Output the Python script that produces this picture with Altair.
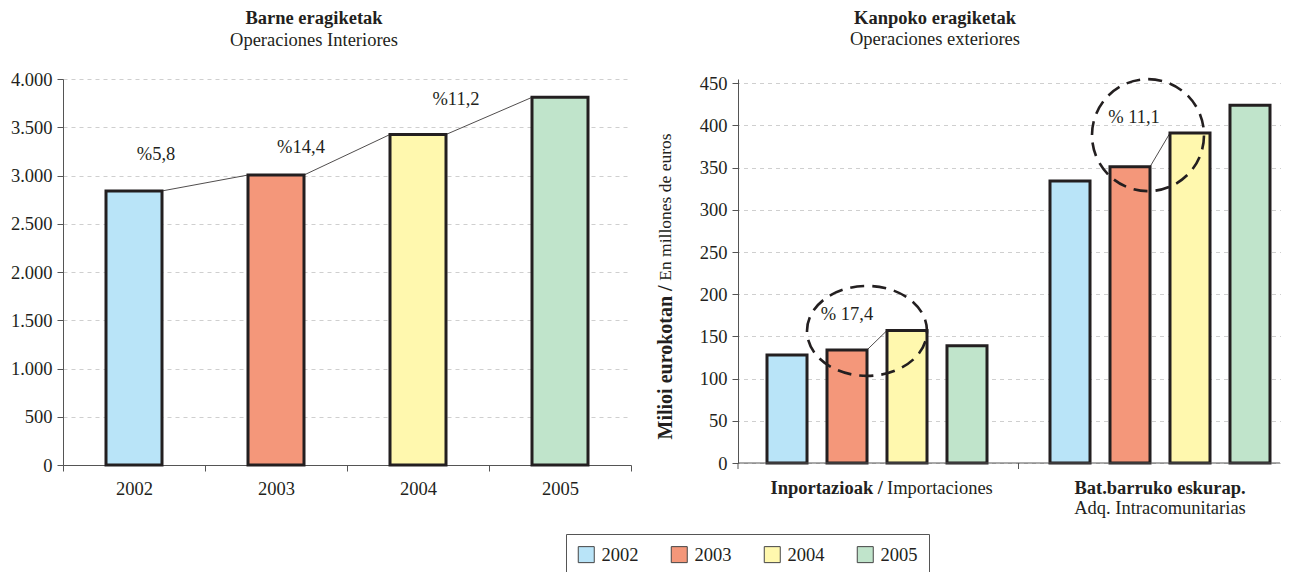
import altair as alt
import pandas as pd

# ---------------- data ----------------
years = ["2002", "2003", "2004", "2005"]
colors = ["#B9E4F8", "#F4977A", "#FFF8AE", "#C0E4CB"]

interior = [2840, 3005, 3425, 3810]          # Operaciones interiores
interior_growth = ["%5,8", "%14,4", "%11,2"]  # growth labels between consecutive years
left_ticks = [0, 500, 1000, 1500, 2000, 2500, 3000, 3500, 4000]

groups = ["Inportazioak", "Bat.barruko"]
imports = [128, 134, 157, 139]               # Importaciones
intra = [334, 351, 391, 424]                 # Adq. Intracomunitarias
right_ticks = [0, 50, 100, 150, 200, 250, 300, 350, 400, 450]
right_notes = ["% 17,4", "% 11,1"]

FONT = "Liberation Serif"
INK = "#231F20"
AX = "#555555"
FS = 18.5

# ---------------- tables ----------------
left_df = pd.DataFrame({"year": years, "value": interior})
conn_df = pd.DataFrame({
    "year": years[:-1], "next": years[1:],
    "value": interior[:-1], "next_value": interior[1:],
    "label": interior_growth,
})
right_df = pd.DataFrame({
    "group": [groups[0]] * 4 + [groups[1]] * 4,
    "year": years * 2,
    "value": imports + intra,
})

color_scale = alt.Scale(domain=years, range=colors)

# ---------------- left chart ----------------
LW, LH = 568, 386
lx = alt.X("year:N", title=None,
           scale=alt.Scale(paddingInner=0, paddingOuter=0),
           axis=alt.Axis(labelAngle=0, tickBand="extent", tickSize=6,
                         labelPadding=8, grid=False,
                         labelFont=FONT, labelFontSize=FS))
ly = alt.Y("value:Q", title=None,
           scale=alt.Scale(domain=[0, 4000]),
           axis=alt.Axis(values=left_ticks, tickSize=6, labelPadding=5,
                         labelFont=FONT, labelFontSize=FS,
                         labelExpr="replace(format(datum.value, ','), ',', '.')"))

left_bars = alt.Chart(left_df).mark_bar(
    width=56, stroke=INK, strokeWidth=3
).encode(
    x=lx, y=ly,
    color=alt.Color("year:N", scale=color_scale, title=None),
)

left_conn = alt.Chart(conn_df).mark_rule(
    color=INK, strokeWidth=0.8, xOffset=28, x2Offset=-28
).encode(
    x="year:N", x2="next:N", y="value:Q", y2="next_value:Q"
)

label_offsets = [(22, -37), (25, -28), (38, -35)]
left_labels = []
for i, (dx, dy) in enumerate(label_offsets):
    left_labels.append(
        alt.Chart(conn_df.iloc[[i]]).mark_text(
            font=FONT, fontSize=FS, color=INK, dx=dx, dy=dy
        ).encode(x="year:N", y="value:Q", text="label:N")
    )

left = alt.layer(left_bars, left_conn, *left_labels).properties(
    width=LW, height=LH,
    title=alt.TitleParams(
        text="Barne eragiketak", subtitle="Operaciones Interiores",
        font=FONT, fontSize=FS, fontWeight="bold", color=INK,
        subtitleFont=FONT, subtitleFontSize=FS, subtitleColor=INK,
        subtitlePadding=3, anchor="middle", dx=-33, offset=21,
    ),
)

# ---------------- right chart ----------------
RW, RH = 542, 384
GROUP_W = 283
rx = alt.X("group:N", title=None, sort=groups,
           scale=alt.Scale(domain=groups, paddingInner=0, paddingOuter=0,
                           range=[-2.5, 2 * GROUP_W - 2.5]),
           axis=None)
ry = alt.Y("value:Q", title=None,
           scale=alt.Scale(domain=[0, 455], nice=False),
           axis=alt.Axis(values=right_ticks, tickSize=6, labelPadding=5,
                         labelFont=FONT, labelFontSize=FS))

right_bars = alt.Chart(right_df).mark_bar(
    stroke=INK, strokeWidth=3
).encode(
    x=rx,
    xOffset=alt.XOffset("year:N", sort=years,
                        scale=alt.Scale(paddingInner=0.333, paddingOuter=0.525)),
    y=ry,
    color=alt.Color("year:N", scale=color_scale, title=None),
)

# x axis line and ticks at the group boundaries
x_axis_line = alt.Chart().mark_rule(color=AX, strokeWidth=1).encode(
    x=alt.value(0), x2=alt.value(RW), y=alt.value(RH))
x_tick_left = alt.Chart().mark_rule(color=AX, strokeWidth=1).encode(
    x=alt.value(0), y=alt.value(RH), y2=alt.value(RH + 6))
x_tick_mid = alt.Chart().mark_rule(color=AX, strokeWidth=1, xOffset=GROUP_W / 2).encode(
    x=alt.datum(groups[0]), y=alt.value(RH), y2=alt.value(RH + 6))

ann = []
series = [imports, intra]
ell_paths = [
    "M-1,0A1,0.75,0,1,1,1,0A1,0.75,0,1,1,-1,0Z",
    "M-1,0A1,1,0,1,1,1,0A1,1,0,1,1,-1,0Z",
]
ell_sizes = [120 ** 2, 112 ** 2]
ell_center = [156.5, 388.5]
ell_dx = [-10, -12]
note_pos = [(-30, 176.5), (-26, 410)]
for g, vals, path, sz, cy, edx, (ndx, ny), note in zip(
        groups, series, ell_paths, ell_sizes, ell_center, ell_dx, note_pos, right_notes):
    # connector from 2003 bar top-right to 2004 bar top-left
    ann.append(alt.Chart().mark_rule(
        color=INK, strokeWidth=0.8, xOffset=-10, x2Offset=10
    ).encode(x=alt.datum(g), x2=alt.datum(g),
             y=alt.datum(vals[1]), y2=alt.datum(vals[2])))
    ann.append(alt.Chart().mark_point(
        shape=path, size=sz, filled=False, opacity=1, stroke=INK,
        strokeWidth=2.6, strokeDash=[14, 8], xOffset=edx
    ).encode(x=alt.datum(g), y=alt.datum(cy)))
    ann.append(alt.Chart().mark_text(
        font=FONT, fontSize=FS, color=INK, dx=ndx
    ).encode(x=alt.datum(g), y=alt.datum(ny), text=alt.value(note)))

# axis title (mixed bold / regular) as rotated text
ytitle_bold = alt.Chart().mark_text(
    font=FONT, fontSize=20, fontWeight="bold", color=INK, angle=270,
    align="right", baseline="middle"
).encode(x=alt.value(-72), y=alt.datum(210.5), text=alt.value("Milioi eurokotan /"))
ytitle_reg = alt.Chart().mark_text(
    font=FONT, fontSize=17.5, color=INK, angle=270,
    align="left", baseline="middle"
).encode(x=alt.value(-72), y=alt.datum(216), text=alt.value("En millones de euros"))

# group labels under the x axis
g1_bold = alt.Chart().mark_text(
    font=FONT, fontSize=FS, fontWeight="bold", color=INK, align="right", dx=6
).encode(x=alt.datum(groups[0]), y=alt.value(RH + 25), text=alt.value("Inportazioak /"))
g1_reg = alt.Chart().mark_text(
    font=FONT, fontSize=FS, color=INK, align="left", dx=10
).encode(x=alt.datum(groups[0]), y=alt.value(RH + 25), text=alt.value("Importaciones"))
g2_bold = alt.Chart().mark_text(
    font=FONT, fontSize=FS, fontWeight="bold", color=INK
).encode(x=alt.datum(groups[1]), y=alt.value(RH + 25), text=alt.value("Bat.barruko eskurap."))
g2_reg = alt.Chart().mark_text(
    font=FONT, fontSize=FS, color=INK
).encode(x=alt.datum(groups[1]), y=alt.value(RH + 45), text=alt.value("Adq. Intracomunitarias"))

right = alt.layer(right_bars, x_axis_line, x_tick_left, x_tick_mid, *ann,
                  ytitle_bold, ytitle_reg,
                  g1_bold, g1_reg, g2_bold, g2_reg).properties(
    width=RW, height=RH,
    title=alt.TitleParams(
        text="Kanpoko eragiketak", subtitle="Operaciones exteriores",
        font=FONT, fontSize=FS, fontWeight="bold", color=INK,
        subtitleFont=FONT, subtitleFontSize=FS, subtitleColor=INK,
        subtitlePadding=3, anchor="middle", dx=-74, offset=25,
    ),
)

chart = alt.hconcat(left, right, spacing=24).resolve_scale(
    x="independent", y="independent"
).configure(font=FONT).configure_view(stroke=None).configure_axis(
    labelFont=FONT, labelFontSize=FS, labelColor=INK,
    domainColor=AX, tickColor=AX,
    gridColor="#CFCFCF", gridDash=[4, 4], gridWidth=1,
).configure_legend(
    orient="none", legendX=503, legendY=455, direction="horizontal",
    labelFont=FONT, labelFontSize=FS, labelColor=INK,
    symbolType="square", symbolSize=256, symbolStrokeColor="#444444",
    symbolStrokeWidth=1, symbolOpacity=1, columnPadding=30, labelOffset=6,
    padding=11, strokeColor=AX, fillColor="white",
).properties(padding={"left": 2, "top": 0, "right": 0, "bottom": 0})

chart.save("out.html", embed_options={"renderer": "svg", "actions": False})
